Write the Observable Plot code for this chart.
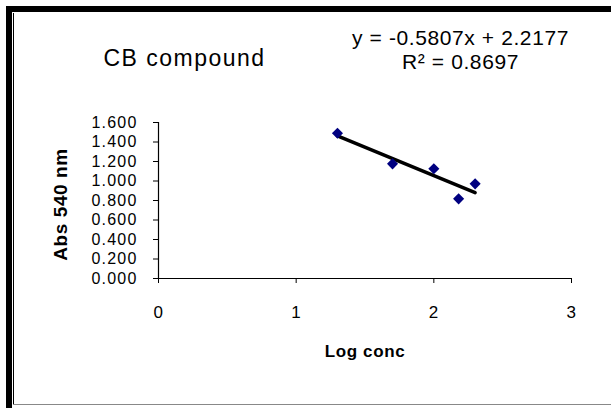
<!DOCTYPE html>
<html>
<head>
<meta charset="utf-8">
<script src="https://cdn.jsdelivr.net/npm/d3@7"></script>
<script src="https://cdn.jsdelivr.net/npm/@observablehq/plot@0.6"></script>
<style>
  html, body { margin: 0; padding: 0; background: #fff; width: 611px; height: 408px; overflow: hidden; }
  #wrap { position: relative; width: 611px; height: 408px; overflow: hidden; }
  #frame { position: absolute; left: 6px; top: 6px; width: 640px; height: 398px;
           border-left: 6px solid #000; border-top: 6px solid #000; border-bottom: 2px solid #000; box-sizing: content-box; }
  #inner { position: absolute; left: 13px; top: 13px; width: 1px; height: 391px; background: #000; }
  #innerb { position: absolute; left: 13px; top: 404px; width: 640px; height: 1px; background: #888; }
  #chart { position: absolute; left: 0; top: 0; }
  g[aria-label="y-axis tick label"] text { letter-spacing: 1.2px; }
  g[aria-label="x-axis tick label"] text { letter-spacing: 0.5px; }
</style>
</head>
<body>
<div id="wrap">
  <div id="frame"></div>
  <div id="inner"></div>
  <div id="innerb"></div>
  <div id="chart"></div>
</div>
<script>
// Data
const logConc = [1.30, 1.70, 2.00, 2.18, 2.30];
const abs540 = [1.490, 1.176, 1.125, 0.817, 0.971];
const xTicks = [0, 1, 2, 3];
const yTicks = [0, 0.2, 0.4, 0.6, 0.8, 1.0, 1.2, 1.4, 1.6];
const titleText = ["CB compound"];
const equationLines = ["y = -0.5807x + 2.2177", "R² = 0.8697"];
const xLabel = ["Log conc"];
const yLabel = ["Abs 540 nm"];

const data = logConc.map((x, i) => ({x, y: abs540[i]}));

const chart = Plot.plot({
  width: 611,
  height: 408,
  marginLeft: 158,
  marginRight: 40,
  marginTop: 122,
  marginBottom: 130,
  style: {fontFamily: "'Liberation Sans', Arial, sans-serif", background: "transparent", overflow: "visible", color: "#000"},
  x: {domain: [0, 3]},
  y: {domain: [0, 1.6]},
  marks: [
    Plot.axisY(yTicks, {tickSize: 5, tickPadding: 16, tickFormat: d3.format(".3f"), fontSize: 16, label: null, stroke: "#000"}),
    Plot.axisX(xTicks, {tickSize: 5, tickPadding: 22, fontSize: 17, tickFormat: d3.format("d"), label: null, stroke: "#000"}),
    Plot.ruleX([0], {stroke: "#000", strokeWidth: 1.2}),
    Plot.ruleY([0], {stroke: "#000", strokeWidth: 1.2}),
    Plot.linearRegressionY(data, {x: "x", y: "y", ci: 0, stroke: "#000", strokeWidth: 3.5}),
    Plot.dot(data, {x: "x", y: "y", symbol: "diamond2", r: 5, fill: "#000080", stroke: "none"}),
    Plot.text(titleText, {frameAnchor: "top-left", dx: 26, dy: -64, fontSize: 23, textAnchor: "middle", lineAnchor: "middle", fill: "#000"}),
    Plot.text([equationLines.join("\n")], {frameAnchor: "top-left", dx: 302, dy: -73, fontSize: 21, lineHeight: 1.15, textAnchor: "middle", lineAnchor: "middle", fill: "#000"}),
    Plot.text(xLabel, {frameAnchor: "bottom", dy: 73, fontSize: 17, fontWeight: "bold", textAnchor: "middle", lineAnchor: "middle", fill: "#000"}),
    Plot.text(yLabel, {frameAnchor: "left", dx: -98, dy: 4, rotate: -90, fontSize: 19, fontWeight: "bold", textAnchor: "middle", lineAnchor: "middle", fill: "#000"})
  ]
});
document.getElementById("chart").appendChild(chart);
// letter spacing on the title / equation / axis-label text
chart.querySelectorAll('g[aria-label="text"] text').forEach((t, i) => { t.style.letterSpacing = i === 0 ? "1.5px" : "0.6px"; });
</script>
</body>
</html>
